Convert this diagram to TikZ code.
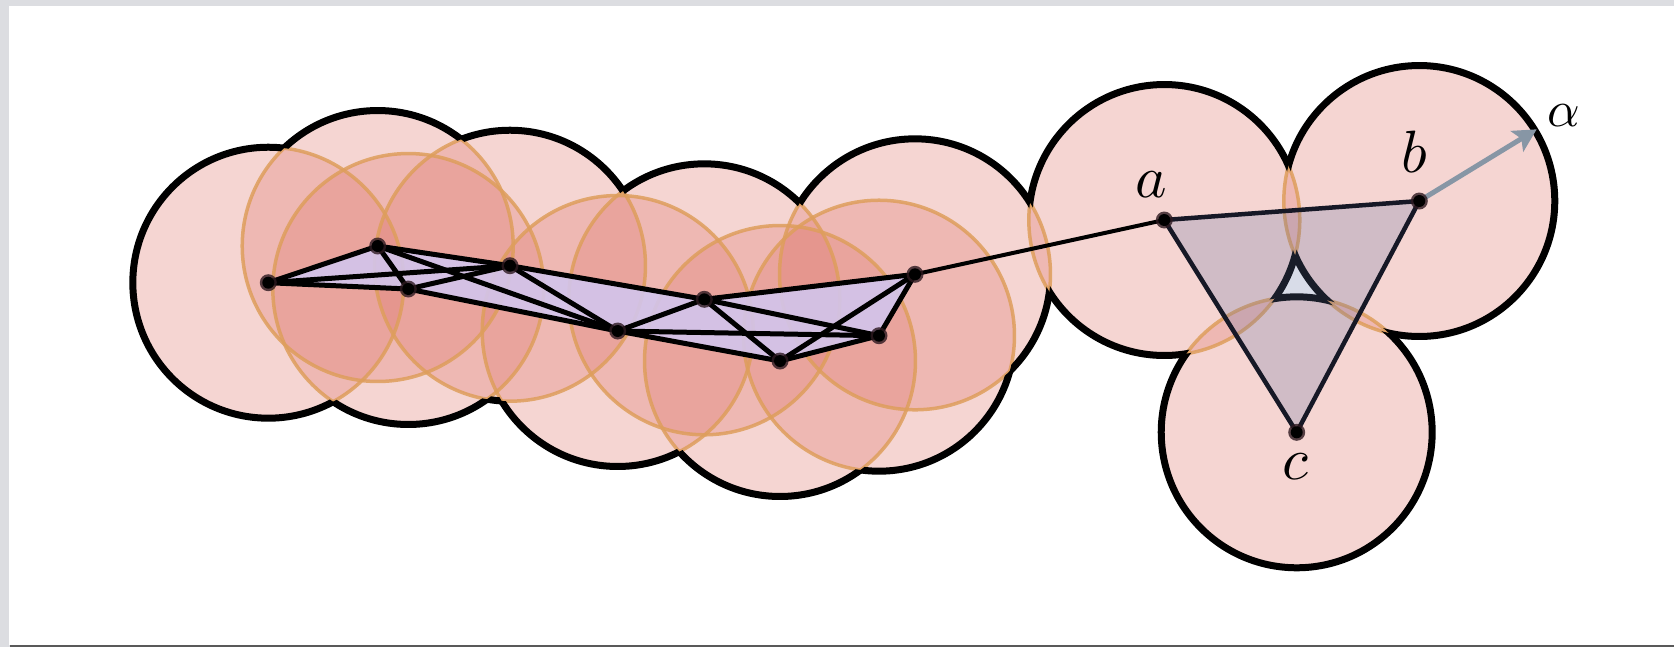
\documentclass[tikz,border=0pt]{standalone}
\usetikzlibrary{arrows.meta}
\definecolor{pinkfill}{RGB}{222,118,108}
\definecolor{orangeln}{RGB}{222,158,92}
\definecolor{lav}{RGB}{210,197,236}
\definecolor{slate}{RGB}{100,116,164}
\definecolor{navy}{RGB}{22,24,38}
\definecolor{arrowgray}{RGB}{135,150,165}
\definecolor{framegray}{RGB}{220,221,225}
\definecolor{halo}{RGB}{45,25,32}
\newcommand{\R}{2.71cm}
\tikzset{
  ballfill/.style={fill=pinkfill, fill opacity=0.3},
  ballrim/.style={draw=orangeln, draw opacity=0.85, line width=0.07cm},
  boundary/.style={draw=black, line width=0.14cm},
  edge/.style={draw=black, line width=0.1cm, line cap=round, line join=round},
  triedge/.style={draw=navy, line width=0.09cm, line join=round},
  lbl/.style={inner sep=0pt, scale=3.4},
}
\begin{document}
\begin{tikzpicture}[x=0.02cm,y=-0.02cm]
\useasboundingbox (0,0) rectangle (1674,647);
\fill[framegray] (0,0) rectangle (1674,647);
\fill[white] (9,6) rectangle (1674,645);
\fill[black!65] (10,645) rectangle (1674,647);

\coordinate (p1) at (268.3,282.7);
\coordinate (p2) at (377.7,246);
\coordinate (p3) at (408.3,289);
\coordinate (p4) at (510,265.7);
\coordinate (p5) at (617.7,331);
\coordinate (p6) at (704.3,299.3);
\coordinate (p7) at (780,361);
\coordinate (p8) at (879,335.7);
\coordinate (p9) at (915,274.3);
\coordinate (p10) at (1164.3,220);
\coordinate (p11) at (1419.3,201);
\coordinate (p12) at (1296.7,432.3);
\coordinate (tip) at (1536.7,129.3);

% balls
\foreach \i in {1,...,12} \path[ballfill] (p\i) circle[radius=\R];
\foreach \i in {1,...,12} \path[ballrim] (p\i) circle[radius=\R];

% union boundary
\foreach \i in {1,...,12} {
  \begin{scope}[even odd rule]
    \foreach \j in {1,...,12} {
      \ifnum\i=\j\relax\else
        \clip (-60,-60) rectangle (1760,760) (p\j) circle[radius=\R];
      \fi
    }
    \path[boundary] (p\i) circle[radius=\R];
  \end{scope}
}

% left complex
\fill[lav, opacity=0.9] (p1) -- (p2) -- (p4) -- (p6) -- (p9) -- (p8) -- (p7) -- (p5) -- (p3) -- cycle;
\foreach \u/\v in {1/2,1/3,1/4,2/3,2/4,2/5,3/4,3/5,4/5,4/6,5/6,5/7,5/8,6/7,6/8,6/9,7/8,7/9,8/9}
  \path[edge] (p\u) -- (p\v);
\path[edge, line width=0.08cm] (p9) -- (p10);

% triangle abc
\fill[slate, opacity=0.25] (p10) -- (p11) -- (p12) -- cycle;
\path[triedge] (p10) -- (p11) -- (p12) -- cycle;

% arrow
\draw[arrowgray, line width=0.1cm, -{Stealth[length=0.46cm,width=0.48cm,inset=0.1cm]}] (p11) -- (tip);

% vertices
\foreach \i in {1,...,12} {
  \fill[halo, opacity=0.8] (p\i) circle[radius=0.17cm];
  \fill[black] (p\i) circle[radius=0.12cm];
}

% labels
\node[lbl] (la) at (1151.7,185) {$a$};
\node[lbl] (lb) at (1414,151.7) {$b$};
\node[lbl] (lc) at (1295,466.7) {$c$};
\node[lbl, scale=0.85] (lalpha) at (1564.3,116) {$\alpha$};
\end{tikzpicture}
\end{document}
